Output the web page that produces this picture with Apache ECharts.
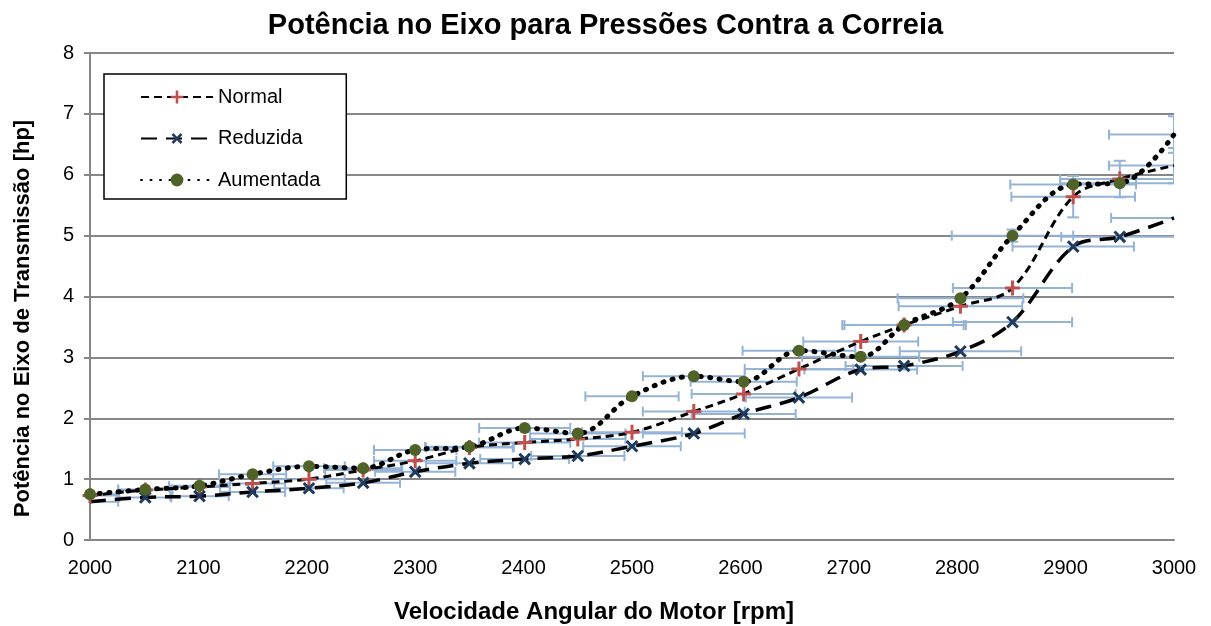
<!DOCTYPE html>
<html>
<head>
<meta charset="utf-8">
<title>Potência no Eixo</title>
<script src="https://cdn.jsdelivr.net/npm/echarts@6/dist/echarts.min.js"></script>
<style>
  html, body { margin: 0; padding: 0; background: #fff; }
  #chart { width: 1211px; height: 626px; }
</style>
</head>
<body>
<div id="chart"></div>
<script>
// velocidade angular (rpm)
const rpm = [2000, 2051, 2101, 2150, 2202, 2252, 2300, 2350, 2401, 2450, 2500,
  2557, 2603, 2654, 2711, 2751, 2803, 2851, 2907, 2950, 3000];

// potência (hp)
const normal = [0.73, 0.82, 0.87, 0.93, 1.00, 1.15, 1.30, 1.52, 1.60, 1.66, 1.77,
  2.11, 2.40, 2.81, 3.26, 3.53, 3.84, 4.14, 5.64, 5.93, 6.15];
const reduzida = [0.63, 0.70, 0.72, 0.79, 0.85, 0.94, 1.12, 1.26, 1.33, 1.38, 1.54,
  1.75, 2.07, 2.34, 2.80, 2.86, 3.10, 3.58, 4.82, 4.98, 5.29];
const aumentada = [0.75, 0.83, 0.89, 1.08, 1.21, 1.18, 1.48, 1.53, 1.84, 1.75, 2.36,
  2.69, 2.60, 3.11, 3.01, 3.53, 3.97, 5.00, 5.84, 5.86, 6.66];

// barras de erro horizontais (± rpm)
const normalXErr = [26, 25, 28, 30, 33, 35, 38, 40, 42, 44, 46, 47, 48, 50, 53, 55, 57, 55, 57, 55, 60];
const reduzidaXErr = [26, 24, 27, 30, 32, 34, 37, 40, 41, 43, 45, 47, 48, 49, 52, 54, 56, 55, 56, 54, 58];
const aumentadaXErr = [25, 25, 28, 31, 33, 36, 38, 41, 42, 44, 43, 47, 49, 52, 54, 57, 58, 56, 58, 55, 60];

// barras de erro verticais (± hp)
const normalYErr = [0, 0, 0, 0, 0, 0, 0, 0, 0, 0, 0, 0, 0, 0, 0, 0, 0, 0, 0.34, 0.30, 0.29];
const reduzidaYErr = [0, 0, 0, 0, 0, 0, 0, 0, 0, 0, 0, 0, 0, 0, 0, 0, 0, 0, 0, 0, 0];
const aumentadaYErr = [0, 0, 0, 0, 0, 0, 0, 0, 0, 0, 0, 0, 0, 0, 0, 0, 0, 0.10, 0, 0, 0.30];

const FONT = "'Liberation Sans', Arial, sans-serif";
const ERR_COLOR = "#95B3D7";

// pontos da linha; os pontos nas bordas ficam sem marcador
const toPoints = (ys, hideFirst) =>
  rpm.map((x, i) => {
    const item = { value: [x, ys[i]] };
    if (i === rpm.length - 1 || (hideFirst && i === 0)) item.symbol = "none";
    return item;
  });

const toErrData = (ys, xe, ye) => rpm.map((x, i) => [x, ys[i], xe[i], ye[i]]);

// desenha as barras de erro com os eixos do próprio gráfico
const renderErr = (params, api) => {
  const x = api.value(0);
  const y = api.value(1);
  const ex = api.value(2);
  const ey = api.value(3);
  const style = { stroke: ERR_COLOR, lineWidth: 2 };
  const children = [];
  const cap = 5;
  if (ex > 0) {
    const l = api.coord([x - ex, y]);
    const r = api.coord([x + ex, y]);
    children.push({ type: "line", shape: { x1: l[0], y1: l[1], x2: r[0], y2: r[1] }, style });
    children.push({ type: "line", shape: { x1: l[0], y1: l[1] - cap, x2: l[0], y2: l[1] + cap }, style });
    children.push({ type: "line", shape: { x1: r[0], y1: r[1] - cap, x2: r[0], y2: r[1] + cap }, style });
  }
  if (ey > 0) {
    const t = api.coord([x, y + ey]);
    const b = api.coord([x, y - ey]);
    children.push({ type: "line", shape: { x1: t[0], y1: t[1], x2: b[0], y2: b[1] }, style });
    children.push({ type: "line", shape: { x1: t[0] - cap - 1, y1: t[1], x2: t[0] + cap + 1, y2: t[1] }, style });
    children.push({ type: "line", shape: { x1: b[0] - cap - 1, y1: b[1], x2: b[0] + cap + 1, y2: b[1] }, style });
  }
  return { type: "group", children };
};

const errSeries = (ys, xe, ye) => ({
  type: "custom",
  data: toErrData(ys, xe, ye),
  renderItem: renderErr,
  encode: { x: 0, y: 1 },
  clip: true,
  silent: true,
  z: 1
});

const PLUS = "path://M4,0 h2 v4 h4 v2 h-4 v4 h-2 v-4 h-4 v-2 h4 z";

const chart = echarts.init(document.getElementById("chart"));

const option = {
  animation: false,
  backgroundColor: "#fff",
  textStyle: { fontFamily: FONT },
  title: {
    text: "Potência no Eixo para Pressões Contra a Correia",
    left: "center",
    top: 6,
    textStyle: { fontFamily: FONT, fontSize: 29, fontWeight: "bold", color: "#000" }
  },
  legend: {
    data: ["Normal", "Reduzida", "Aumentada"],
    orient: "vertical",
    left: 104,
    top: 74,
    padding: [13, 26, 9, 36],
    backgroundColor: "#fff",
    borderColor: "#000",
    borderWidth: 1.5,
    borderRadius: 0,
    itemWidth: 72,
    itemHeight: 16,
    itemGap: 21.5,
    textStyle: { fontFamily: FONT, fontSize: 20, color: "#000", lineHeight: 20 }
  },
  grid: {
    left: 90,
    right: 37,
    top: 53,
    bottom: 86,
    containLabel: false,
    outerBoundsMode: "none"
  },
  xAxis: {
    type: "value",
    min: 2000,
    max: 3000,
    interval: 100,
    name: "Velocidade Angular do Motor [rpm]",
    nameLocation: "middle",
    nameGap: 60,
    nameTextStyle: {
      fontFamily: FONT, fontSize: 24, fontWeight: "bold", color: "#000",
      padding: [0, 76, 0, 0]
    },
    axisLine: { lineStyle: { color: "#878787", width: 2 } },
    axisTick: { show: false },
    axisLabel: { color: "#000", fontSize: 20, fontFamily: FONT, margin: 18, formatter: (v) => String(v) },
    splitLine: { show: false }
  },
  yAxis: {
    type: "value",
    min: 0,
    max: 8,
    interval: 1,
    name: "Potência no Eixo de Transmissão [hp]",
    nameLocation: "middle",
    nameGap: 56,
    nameTextStyle: {
      fontFamily: FONT, fontSize: 22, fontWeight: "bold", color: "#000",
      padding: [0, 44, 0, 0]
    },
    axisLine: { show: true, lineStyle: { color: "#878787", width: 2 } },
    axisTick: { show: true, length: 6, lineStyle: { color: "#878787", width: 2 } },
    axisLabel: { color: "#000", fontSize: 20, fontFamily: FONT, margin: 16 },
    splitLine: { lineStyle: { color: "#878787", width: 2 } }
  },
  series: [
    errSeries(normal, normalXErr, normalYErr),
    errSeries(reduzida, reduzidaXErr, reduzidaYErr),
    errSeries(aumentada, aumentadaXErr, aumentadaYErr),
    {
      name: "Normal",
      type: "line",
      data: toPoints(normal, false),
      smooth: 0.35,
      symbol: PLUS,
      symbolSize: 15,
      itemStyle: { color: "#C0504D" },
      lineStyle: { color: "#000", width: 3, type: [8, 5] },
      z: 3
    },
    {
      name: "Reduzida",
      type: "line",
      data: toPoints(reduzida, true),
      smooth: 0.35,
      symbol: PLUS,
      symbolRotate: 45,
      symbolSize: 15,
      itemStyle: { color: "#1F3B5E" },
      lineStyle: { color: "#000", width: 3.5, type: [16, 9] },
      z: 3
    },
    {
      name: "Aumentada",
      type: "line",
      data: toPoints(aumentada, false),
      smooth: 0.35,
      symbol: "circle",
      symbolSize: 12,
      itemStyle: { color: "#4F6228" },
      lineStyle: { color: "#000", width: 5, type: [1, 8.5], cap: "round" },
      z: 4
    }
  ]
};

chart.setOption(option);
</script>
</body>
</html>
